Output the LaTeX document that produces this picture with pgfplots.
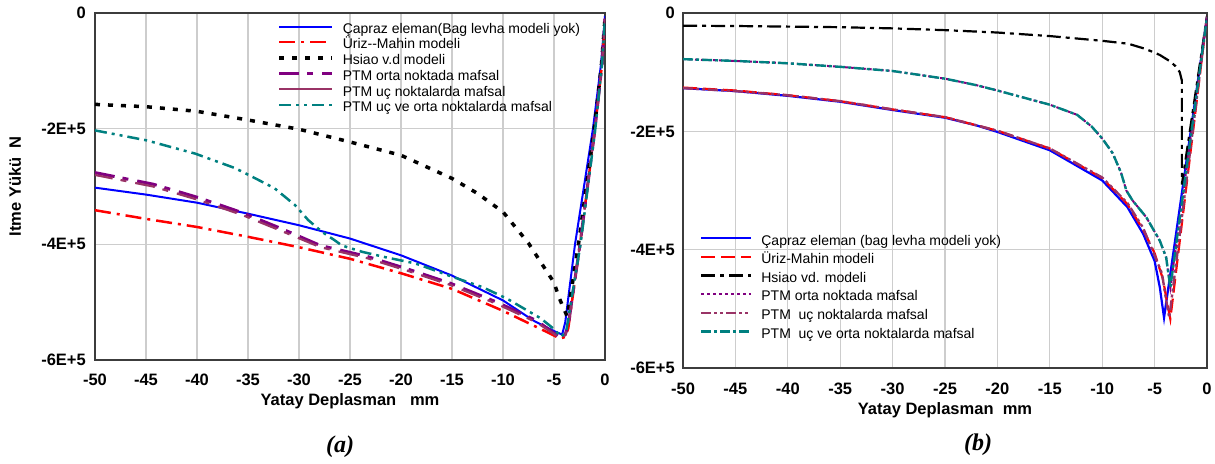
\documentclass[border=0pt]{standalone}
\usepackage{fontspec}
\setmainfont{Liberation Sans}
\newfontfamily\capfont{Liberation Serif}
\usepackage{pgfplots}
\pgfplotsset{compat=1.18}

\definecolor{cBlue}{RGB}{0,0,255}
\definecolor{cRed}{RGB}{255,0,0}
\definecolor{cPurple}{RGB}{128,0,128}
\definecolor{cMauve}{RGB}{153,51,102}
\definecolor{cTeal}{RGB}{0,128,128}
\definecolor{cGrid}{RGB}{205,205,205}
\definecolor{cFrame}{RGB}{60,60,60}

\pgfplotsset{
  panel/.style={
    scale only axis,
    xmin=-50, xmax=0, ymin=-600000, ymax=0,
    scaled y ticks=false, scaled x ticks=false,
    xtick={-50,-45,...,0},
    xticklabels={-50,-45,-40,-35,-30,-25,-20,-15,-10,-5,0},
    ytick={-600000,-400000,-200000,0},
    yticklabels={-6E+5,-4E+5,-2E+5,0},
    grid=major,
    major grid style={color=cGrid, line width=1.3pt},
    major tick length=0pt,
    axis line style={color=cFrame, line width=1.3pt},
    tick label style={font=\fontsize{16.5}{18}\selectfont\bfseries, inner sep=0pt},
    yticklabel style={anchor=east},
    xticklabel style={anchor=center},
    label style={font=\fontsize{16.5}{18}\selectfont\bfseries},
    legend cell align=left,
    legend image code/.code={\draw[#1] (0pt,3.5pt) -- (53pt,3.5pt);},
  },
}

\begin{document}
\begin{tikzpicture}
\path[use as bounding box] (0pt,0pt) rectangle (1215pt,463pt);

% ---------------- panel (a) ----------------
\begin{axis}[panel,
  at={(95pt,103pt)}, anchor=south west,
  width=510pt, height=347pt,
  xticklabel style={yshift=-20pt},
  yticklabel style={xshift=-9pt},
  xlabel={Yatay Deplasman\ \ \ mm},
  ylabel={Itme Yükü\ \ N},
  xlabel style={at={(axis description cs:0.5,-0.118)}, anchor=center},
  ylabel style={at={(axis description cs:-0.157,0.5)}, anchor=center},
  legend style={at={(rel axis cs:0.357,0.971)}, anchor=north west,
    draw=none, fill=none, inner sep=0pt,
    font=\fontsize{14}{16}\selectfont,
    row sep=2.2pt, column sep=9pt,
    nodes={inner sep=0pt, text height=10pt, text depth=3.5pt}},
]
\addplot[cBlue, line width=2pt] coordinates {
(-50,-302000) (-45,-314000) (-40,-328000) (-35,-347000) (-30,-367000)
(-25,-390000) (-20,-419000) (-15,-454000) (-10,-497000) (-7,-532000)
(-5,-550000) (-4.2,-556000) (-3.9,-535000) (-2.94,-400000)
(-1.18,-200000) (-0.4,-90000) (0,-5000)};
\addlegendentry{Çapraz eleman(Bag levha modeli yok)}

\addplot[cRed, line width=2.5pt, dash pattern=on 16pt off 6pt on 3pt off 6pt] coordinates {
(-50,-341000) (-45,-356000) (-40,-370000) (-35,-387000) (-30,-405000)
(-25,-425000) (-20,-450000) (-15,-477000) (-10,-515000) (-6,-549000)
(-4.4,-563000) (-3.9,-560000) (-3.6,-545000) (-2.45,-400000)
(-0.98,-200000) (-0.3,-90000) (0,-10000)};
\addlegendentry{Üriz{-}{-}Mahin modeli}

\addplot[black, line width=3.5pt, dash pattern=on 5pt off 8pt] coordinates {
(-50,-158000) (-45,-162000) (-40,-170000) (-35,-185000) (-30,-201000)
(-25,-223000) (-20,-246000) (-15,-286000) (-12.5,-312000) (-10,-344000)
(-7.5,-398000) (-6,-439000) (-5,-466000) (-4.5,-492000) (-4.1,-509000)
(-3.7,-525000) (-2.6,-400000) (-1.05,-200000) (-0.35,-90000) (0,-10000)};
\addlegendentry{Hsiao v.d modeli}

\addplot[cPurple, line width=3pt, dash pattern=on 20pt off 8pt on 6pt off 9pt] coordinates {
(-50,-276000) (-44.3,-296000) (-39.9,-319000) (-35.6,-345000) (-31.7,-373000)
(-27.9,-402000) (-23.3,-421000) (-19.3,-443000) (-15.2,-467000)
(-10.6,-500000) (-6.7,-532000) (-4.4,-561000) (-3.9,-556000)
(-3.6,-540000) (-2.45,-400000) (-0.98,-200000) (-0.3,-90000) (0,-10000)};
\addlegendentry{PTM orta noktada mafsal}

\addplot[cMauve, line width=2.2pt, dash pattern=on 20pt off 8pt on 6pt off 9pt,
  dash phase=2pt, legend image post style={solid}] coordinates {
(-50,-280000) (-44.3,-300000) (-39.9,-323000) (-35.6,-349000) (-31.7,-377000)
(-27.9,-405000) (-23.3,-424000) (-19.3,-446000) (-15.2,-470000)
(-10.6,-503000) (-6.7,-535000) (-4.4,-562000) (-3.9,-557000)
(-3.6,-541000) (-2.45,-400000) (-0.98,-200000) (-0.3,-90000) (0,-10000)};
\addlegendentry{PTM uç noktalarda mafsal}

\addplot[cTeal, line width=2.5pt, dash pattern=on 12pt off 5pt on 3pt off 5pt on 3pt off 5pt] coordinates {
(-50,-203000) (-45,-220000) (-40.2,-243000) (-36.3,-268000) (-34.6,-283000)
(-32.4,-303000) (-30.4,-332000) (-29.1,-358000) (-27.7,-379000)
(-26.5,-393000) (-25.8,-402000) (-23.8,-413000) (-21.6,-422000)
(-18.6,-433000) (-16.7,-445000) (-15,-456000) (-12,-474000) (-9.6,-494000)
(-6.3,-528000) (-5.1,-545000) (-4.3,-560000) (-3.8,-550000)
(-2.4,-400000) (-0.95,-200000) (-0.3,-90000) (0,-10000)};
\addlegendentry{PTM uç ve orta noktalarda mafsal}
\end{axis}

% ---------------- panel (b) ----------------
\begin{axis}[panel,
  at={(683pt,95pt)}, anchor=south west,
  width=524pt, height=355pt,
  xticklabel style={yshift=-21pt},
  yticklabel style={xshift=-8pt},
  xlabel={Yatay Deplasman\ \ mm},
  xlabel style={at={(axis description cs:0.5,-0.118)}, anchor=center},
  legend image code/.code={\draw[#1] (0pt,3.5pt) -- (50pt,3.5pt);},
  legend style={at={(rel axis cs:0.032,0.375)}, anchor=north west,
    draw=none, fill=none, inner sep=0pt,
    font=\fontsize{14}{16}\selectfont,
    row sep=5.1pt, column sep=9pt,
    nodes={inner sep=0pt, text height=10pt, text depth=3.5pt}},
]
\addplot[cBlue, line width=2.2pt] coordinates {
(-50,-127000) (-45,-132000) (-40,-140000) (-35,-150000) (-30,-164000)
(-25,-177000) (-22,-190000) (-20,-201000) (-15,-232000) (-10,-283000)
(-7.6,-328000) (-6.1,-373000) (-5,-419000) (-4.5,-464000) (-4.1,-515000)
(0,-7000)};
\addlegendentry{Çapraz eleman (bag levha modeli yok)}

\addplot[cRed, line width=2.2pt, dash pattern=on 14pt off 6pt] coordinates {
(-50,-126000) (-45,-131000) (-40,-139000) (-35,-149000) (-30,-163000)
(-25,-176000) (-20,-199000) (-15,-229000) (-10,-279000) (-7.6,-323000)
(-6.1,-366000) (-5,-406000) (-4.2,-450000) (-3.8,-490000) (-3.5,-517000)
(0,-5000)};
\addlegendentry{Üriz-Mahin modeli}

\addplot[black, line width=2.2pt, dash pattern=on 14pt off 5pt on 4pt off 5pt] coordinates {
(-50,-21500) (-45,-22000) (-40,-23000) (-35,-24000) (-30,-26000)
(-25,-29000) (-20,-33000) (-15,-39000) (-10,-47000) (-7.5,-52000)
(-6,-60000) (-5,-67000) (-4.5,-71000) (-3.5,-82000) (-3,-90000)
(-2.6,-100000) (-2.4,-114000) (-2.4,-290000) (0,-5000)};
\addlegendentry{Hsiao vd. modeli}

\addplot[cPurple, line width=2pt, dash pattern=on 3pt off 3pt] coordinates {
(-50,-78000) (-45,-81000) (-40,-85000) (-35,-91000) (-30,-98000)
(-25,-111000) (-22,-122000) (-20,-131000) (-15,-155000) (-12.4,-172000)
(-11,-192000) (-10,-212000) (-9,-237000) (-8.2,-270000) (-7.7,-300000)
(-7.1,-317000) (-5.8,-345000) (-4.5,-385000) (-3.9,-413000) (-3.5,-464000)
(0,-7000)};
\addlegendentry{PTM orta noktada mafsal}

\addplot[cMauve, line width=2.4pt, dash pattern=on 10pt off 3pt on 3pt off 3pt on 3pt off 3pt] coordinates {
(-50,-127000) (-45,-132000) (-40,-139000) (-35,-149000) (-30,-163000)
(-25,-176000) (-20,-199000) (-15,-229000) (-10,-278000) (-7.6,-321000)
(-6.1,-363000) (-5,-410000) (-4.3,-440000) (-3.9,-485000) (-3.6,-515000)
(0,-6000)};
\addlegendentry{PTM\ \ uç noktalarda mafsal}

\addplot[cTeal, line width=2.4pt, dash pattern=on 10pt off 3pt on 3pt off 3pt] coordinates {
(-50,-78000) (-45,-81000) (-40,-85000) (-35,-91000) (-30,-98000)
(-25,-111000) (-22,-122000) (-20,-131000) (-15,-155000) (-12.4,-172000)
(-11,-192000) (-10,-212000) (-9,-237000) (-8.2,-270000) (-7.7,-300000)
(-7.1,-317000) (-5.8,-345000) (-4.5,-385000) (-3.9,-413000) (-3.5,-464000)
(0,-7000)};
\addlegendentry{PTM\ \ uç ve orta noktalarda mafsal}
\end{axis}

\node at (340pt,16pt) {\capfont\bfseries\itshape\fontsize{24}{28}\selectfont (a)};
\node at (978pt,18pt) {\capfont\bfseries\itshape\fontsize{24}{28}\selectfont (b)};
\end{tikzpicture}
\end{document}
